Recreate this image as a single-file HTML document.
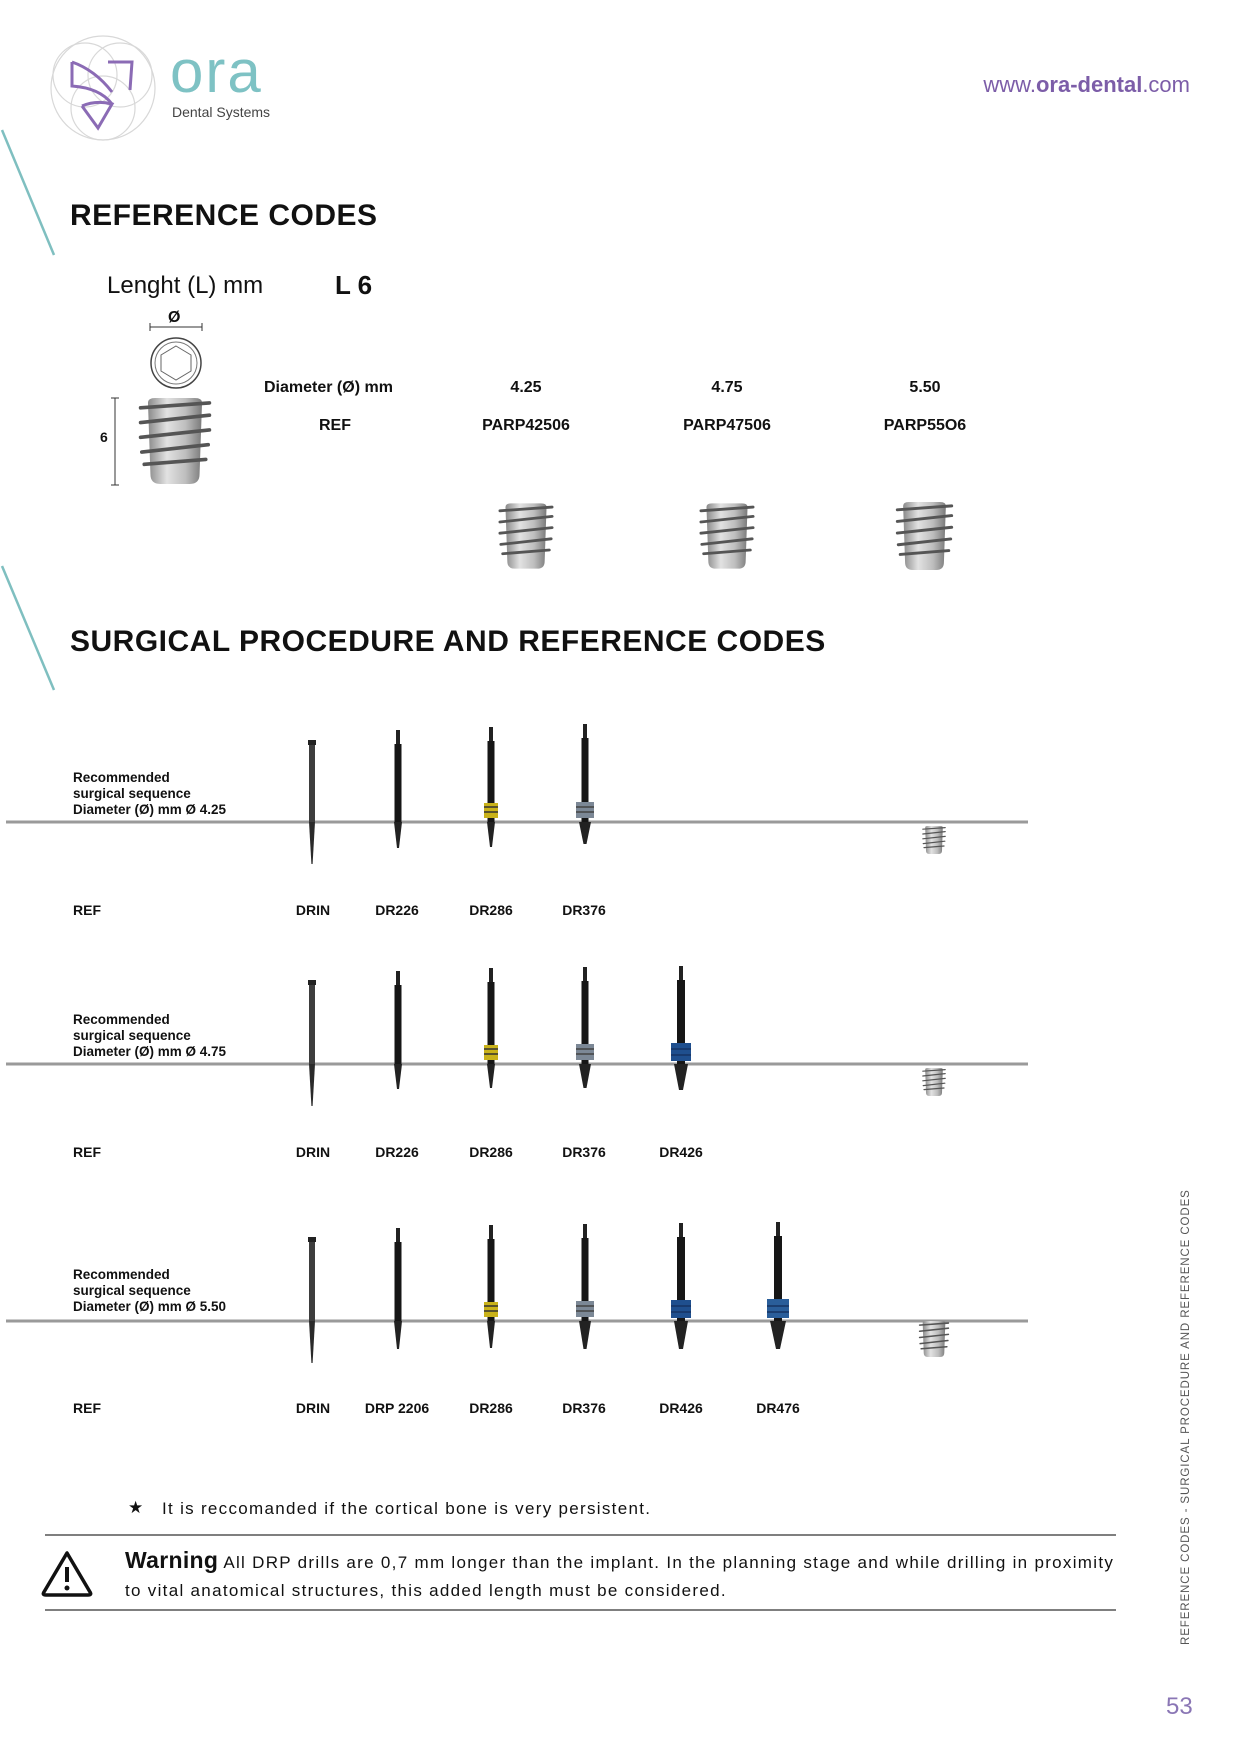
<!DOCTYPE html>
<html><head><meta charset="utf-8">
<style>
html,body{margin:0;padding:0;background:#fff;}
body{width:1240px;height:1754px;position:relative;overflow:hidden;font-family:"Liberation Sans",sans-serif;color:#111;}
.t{position:absolute;white-space:nowrap;}
.b{font-weight:bold;}
.c{transform:translateX(-50%);}
.h{font-size:30px;font-weight:bold;letter-spacing:0.5px;}
.rec{font-size:13.5px;font-weight:bold;line-height:16px;left:73px;}
.lab{font-size:14px;font-weight:bold;}
.w{font-size:17px;letter-spacing:1.3px;}
</style></head><body>
<svg width="1240" height="1754" style="position:absolute;left:0;top:0">
<defs>
<linearGradient id="ig" x1="0" x2="1">
<stop offset="0" stop-color="#8a8a8a"/><stop offset="0.35" stop-color="#e2e2e2"/><stop offset="0.7" stop-color="#bdbdbd"/><stop offset="1" stop-color="#7a7a7a"/></linearGradient>
<symbol id="imp" viewBox="0 0 60 70">
<path d="M8,4 Q8,0 14,0 L46,0 Q52,0 52,4 L50,62 Q50,70 42,70 L18,70 Q10,70 10,62 Z" fill="url(#ig)"/>
<g stroke="#555" stroke-width="3" fill="none" stroke-linecap="round">
<path d="M2,8 L58,4"/><path d="M2,20 L58,14"/><path d="M2,32 L58,26"/><path d="M3,44 L57,38"/><path d="M5,54 L55,50"/>
</g>
</symbol>
</defs>
<g fill="none" stroke="#d8d8d8" stroke-width="1.2">
<circle cx="103" cy="88" r="52"/><circle cx="85" cy="75" r="32"/><circle cx="120" cy="75" r="32"/><circle cx="103" cy="108" r="32"/>
</g>
<g fill="none" stroke="#8b6bb5" stroke-width="3">
<path d="M72,62 L72,86 Q100,88 112,104"/><path d="M72,62 Q95,70 112,92"/><path d="M108,62 L132,62 L130,90"/><path d="M82,106 L98,128 L112,104 Q96,100 82,106"/>
</g>
<line x1="2" y1="130" x2="54" y2="255" stroke="#7fbfc0" stroke-width="2.5"/>
<line x1="2" y1="566" x2="54" y2="690" stroke="#7fbfc0" stroke-width="2.5"/>
<line x1="150" y1="327" x2="202" y2="327" stroke="#333" stroke-width="1"/>
<path d="M150,323 L150,331 M202,323 L202,331" stroke="#333"/>
<circle cx="176" cy="363" r="25" fill="none" stroke="#444" stroke-width="1.5"/>
<circle cx="176" cy="363" r="21" fill="none" stroke="#777" stroke-width="1"/>
<polygon points="176,346 191,355 191,371 176,380 161,371 161,355" fill="none" stroke="#666"/>
<line x1="115" y1="398" x2="115" y2="485" stroke="#333" stroke-width="1"/>
<path d="M111,398 L119,398 M111,485 L119,485" stroke="#333"/>
<use href="#imp" x="135" y="398" width="80" height="86"/>
<use href="#imp" x="498" y="502" width="56" height="68"/>
<use href="#imp" x="699" y="502" width="56" height="68"/>
<use href="#imp" x="887" y="502" width="75" height="68"/>
<g stroke="#9a9a9a" stroke-width="3">
<line x1="6" y1="822" x2="1028" y2="822"/><line x1="6" y1="1064" x2="1028" y2="1064"/><line x1="6" y1="1321" x2="1028" y2="1321"/>
</g>
<g transform="translate(0,822)">
<g transform="translate(312,0)"><rect x="-3" y="-82" width="6" height="82" fill="#3d3d3d"/><rect x="-4" y="-82" width="8" height="5" fill="#222"/><polygon points="-3,0 3,0 0.6,42 -0.6,42" fill="#2a2a2a"/></g>
<g transform="translate(398,0)"><rect x="-2" y="-92" width="4" height="14" fill="#222"/><rect x="-3.5" y="-78" width="7" height="78" fill="#161616"/><polygon points="-4,0 4,0 1,26 -1,26" fill="#222"/></g>
<g transform="translate(491,0)"><rect x="-2" y="-95" width="4" height="14" fill="#222"/><rect x="-3.5" y="-81" width="7" height="81" fill="#161616"/><rect x="-7" y="-19" width="14" height="15" fill="#c9b21a"/><path d="M-7,-15h14M-7,-10h14" stroke="#333" stroke-width="1.5"/><polygon points="-4,0 4,0 1,25 -1,25" fill="#222"/></g>
<g transform="translate(585,0)"><rect x="-2" y="-98" width="4" height="14" fill="#222"/><rect x="-3.5" y="-84" width="7" height="84" fill="#161616"/><rect x="-9" y="-20" width="18" height="16" fill="#7c8896"/><path d="M-9,-15h18M-9,-10h18" stroke="#444" stroke-width="1.5"/><polygon points="-6,0 6,0 1.5,22 -1.5,22" fill="#222"/></g>
<use href="#imp" x="922" y="0" width="24" height="36"/>
</g>
<g transform="translate(0,1064)">
<g transform="translate(312,0)"><rect x="-3" y="-84" width="6" height="84" fill="#3d3d3d"/><rect x="-4" y="-84" width="8" height="5" fill="#222"/><polygon points="-3,0 3,0 0.6,42 -0.6,42" fill="#2a2a2a"/></g>
<g transform="translate(398,0)"><rect x="-2" y="-93" width="4" height="14" fill="#222"/><rect x="-3.5" y="-79" width="7" height="79" fill="#161616"/><polygon points="-4,0 4,0 1,25 -1,25" fill="#222"/></g>
<g transform="translate(491,0)"><rect x="-2" y="-96" width="4" height="14" fill="#222"/><rect x="-3.5" y="-82" width="7" height="82" fill="#161616"/><rect x="-7" y="-19" width="14" height="15" fill="#c9b21a"/><path d="M-7,-15h14M-7,-10h14" stroke="#333" stroke-width="1.5"/><polygon points="-4,0 4,0 1,24 -1,24" fill="#222"/></g>
<g transform="translate(585,0)"><rect x="-2" y="-97" width="4" height="14" fill="#222"/><rect x="-3.5" y="-83" width="7" height="83" fill="#161616"/><rect x="-9" y="-20" width="18" height="16" fill="#7c8896"/><path d="M-9,-15h18M-9,-10h18" stroke="#444" stroke-width="1.5"/><polygon points="-6,0 6,0 1.5,24 -1.5,24" fill="#222"/></g>
<g transform="translate(681,0)"><rect x="-2" y="-98" width="4" height="14" fill="#222"/><rect x="-4" y="-84" width="8" height="84" fill="#161616"/><rect x="-10" y="-21" width="20" height="18" fill="#1f4f8e"/><path d="M-10,-15h20M-10,-9h20" stroke="#163463" stroke-width="1.5"/><polygon points="-7,0 7,0 2,26 -2,26" fill="#222"/></g>
<use href="#imp" x="922" y="0" width="24" height="36"/>
</g>
<g transform="translate(0,1321)">
<g transform="translate(312,0)"><rect x="-3" y="-84" width="6" height="84" fill="#3d3d3d"/><rect x="-4" y="-84" width="8" height="5" fill="#222"/><polygon points="-3,0 3,0 0.6,42 -0.6,42" fill="#2a2a2a"/></g>
<g transform="translate(398,0)"><rect x="-2" y="-93" width="4" height="14" fill="#222"/><rect x="-3.5" y="-79" width="7" height="79" fill="#161616"/><polygon points="-4,0 4,0 1,28 -1,28" fill="#222"/></g>
<g transform="translate(491,0)"><rect x="-2" y="-96" width="4" height="14" fill="#222"/><rect x="-3.5" y="-82" width="7" height="82" fill="#161616"/><rect x="-7" y="-19" width="14" height="15" fill="#c9b21a"/><path d="M-7,-15h14M-7,-10h14" stroke="#333" stroke-width="1.5"/><polygon points="-4,0 4,0 1,27 -1,27" fill="#222"/></g>
<g transform="translate(585,0)"><rect x="-2" y="-97" width="4" height="14" fill="#222"/><rect x="-3.5" y="-83" width="7" height="83" fill="#161616"/><rect x="-9" y="-20" width="18" height="16" fill="#7c8896"/><path d="M-9,-15h18M-9,-10h18" stroke="#444" stroke-width="1.5"/><polygon points="-6,0 6,0 1.5,28 -1.5,28" fill="#222"/></g>
<g transform="translate(681,0)"><rect x="-2" y="-98" width="4" height="14" fill="#222"/><rect x="-4" y="-84" width="8" height="84" fill="#161616"/><rect x="-10" y="-21" width="20" height="18" fill="#1f4f8e"/><path d="M-10,-15h20M-10,-9h20" stroke="#163463" stroke-width="1.5"/><polygon points="-7,0 7,0 2,28 -2,28" fill="#222"/></g>
<g transform="translate(778,0)"><rect x="-2" y="-99" width="4" height="14" fill="#222"/><rect x="-4" y="-85" width="8" height="85" fill="#161616"/><rect x="-11" y="-22" width="22" height="19" fill="#2a5e9a"/><path d="M-11,-15h22M-11,-9h22" stroke="#163463" stroke-width="1.5"/><polygon points="-8,0 8,0 2,28 -2,28" fill="#222"/></g>
<use href="#imp" x="918" y="0" width="32" height="36"/>
</g>
<line x1="45" y1="1535" x2="1116" y2="1535" stroke="#555" stroke-width="1.5"/>
<line x1="45" y1="1610" x2="1116" y2="1610" stroke="#555" stroke-width="1.5"/>
<path d="M67,1553 L44,1592 Q42,1595 46,1595 L88,1595 Q92,1595 90,1592 Z" fill="none" stroke="#111" stroke-width="3.5" stroke-linejoin="round"/>
<rect x="65" y="1567" width="4" height="15" fill="#111"/><circle cx="67" cy="1588" r="2.5" fill="#111"/>
</svg>

<div class="t" style="left:170px;top:42px;font-size:60px;color:#7ec2c4;letter-spacing:2px;line-height:60px;">ora</div>
<div class="t" style="left:172px;top:104px;font-size:14px;color:#444;">Dental Systems</div>
<div class="t" style="right:50px;top:72px;font-size:22px;color:#7c5da8;">www.<b>ora-dental</b>.com</div>

<div class="t h" style="left:70px;top:199px;">REFERENCE CODES</div>
<div class="t" style="left:107px;top:272px;font-size:24px;">Lenght (L) mm</div>
<div class="t b" style="left:335px;top:270px;font-size:26px;">L 6</div>
<div class="t b" style="left:168px;top:309px;font-size:16px;">Ø</div>
<div class="t b" style="left:100px;top:429px;font-size:14px;">6</div>

<div class="t b" style="left:264px;top:379px;font-size:16px;">Diameter (Ø) mm</div>
<div class="t b c" style="left:526px;top:379px;font-size:16px;">4.25</div>
<div class="t b c" style="left:727px;top:379px;font-size:16px;">4.75</div>
<div class="t b c" style="left:925px;top:379px;font-size:16px;">5.50</div>
<div class="t b c" style="left:335px;top:417px;font-size:16px;">REF</div>
<div class="t b c" style="left:526px;top:417px;font-size:16px;">PARP42506</div>
<div class="t b c" style="left:727px;top:417px;font-size:16px;">PARP47506</div>
<div class="t b c" style="left:925px;top:417px;font-size:16px;">PARP55O6</div>

<div class="t h" style="left:70px;top:625px;">SURGICAL PROCEDURE AND REFERENCE CODES</div>

<div class="t rec" style="top:770px;">Recommended<br>surgical sequence<br>Diameter (Ø) mm Ø 4.25</div>
<div class="t lab" style="left:73px;top:902px;">REF</div>
<div class="t lab c" style="left:313px;top:902px;">DRIN</div>
<div class="t lab c" style="left:397px;top:902px;">DR226</div>
<div class="t lab c" style="left:491px;top:902px;">DR286</div>
<div class="t lab c" style="left:584px;top:902px;">DR376</div>

<div class="t rec" style="top:1012px;">Recommended<br>surgical sequence<br>Diameter (Ø) mm Ø 4.75</div>
<div class="t lab" style="left:73px;top:1144px;">REF</div>
<div class="t lab c" style="left:313px;top:1144px;">DRIN</div>
<div class="t lab c" style="left:397px;top:1144px;">DR226</div>
<div class="t lab c" style="left:491px;top:1144px;">DR286</div>
<div class="t lab c" style="left:584px;top:1144px;">DR376</div>
<div class="t lab c" style="left:681px;top:1144px;">DR426</div>

<div class="t rec" style="top:1267px;">Recommended<br>surgical sequence<br>Diameter (Ø) mm Ø 5.50</div>
<div class="t lab" style="left:73px;top:1400px;">REF</div>
<div class="t lab c" style="left:313px;top:1400px;">DRIN</div>
<div class="t lab c" style="left:397px;top:1400px;">DRP 2206</div>
<div class="t lab c" style="left:491px;top:1400px;">DR286</div>
<div class="t lab c" style="left:584px;top:1400px;">DR376</div>
<div class="t lab c" style="left:681px;top:1400px;">DR426</div>
<div class="t lab c" style="left:778px;top:1400px;">DR476</div>

<div class="t" style="left:128px;top:1498px;font-size:17px;">★</div>
<div class="t w" style="left:162px;top:1499px;">It is reccomanded if the cortical bone is very persistent.</div>
<div class="t w" style="left:125px;top:1547px;"><b style="font-size:23px;letter-spacing:0.3px;">Warning</b> All DRP drills are 0,7 mm longer than the implant. In the planning stage and while drilling in proximity</div>
<div class="t w" style="left:125px;top:1581px;">to vital anatomical structures, this added length must be considered.</div>

<div class="t" style="left:1180px;top:1645px;font-size:11.5px;color:#555;letter-spacing:0.9px;transform:rotate(-90deg);transform-origin:0 0;">REFERENCE CODES - SURGICAL PROCEDURE AND REFERENCE CODES</div>
<div class="t" style="left:1166px;top:1693px;font-size:24px;color:#8a76b5;">53</div>
</body></html>
